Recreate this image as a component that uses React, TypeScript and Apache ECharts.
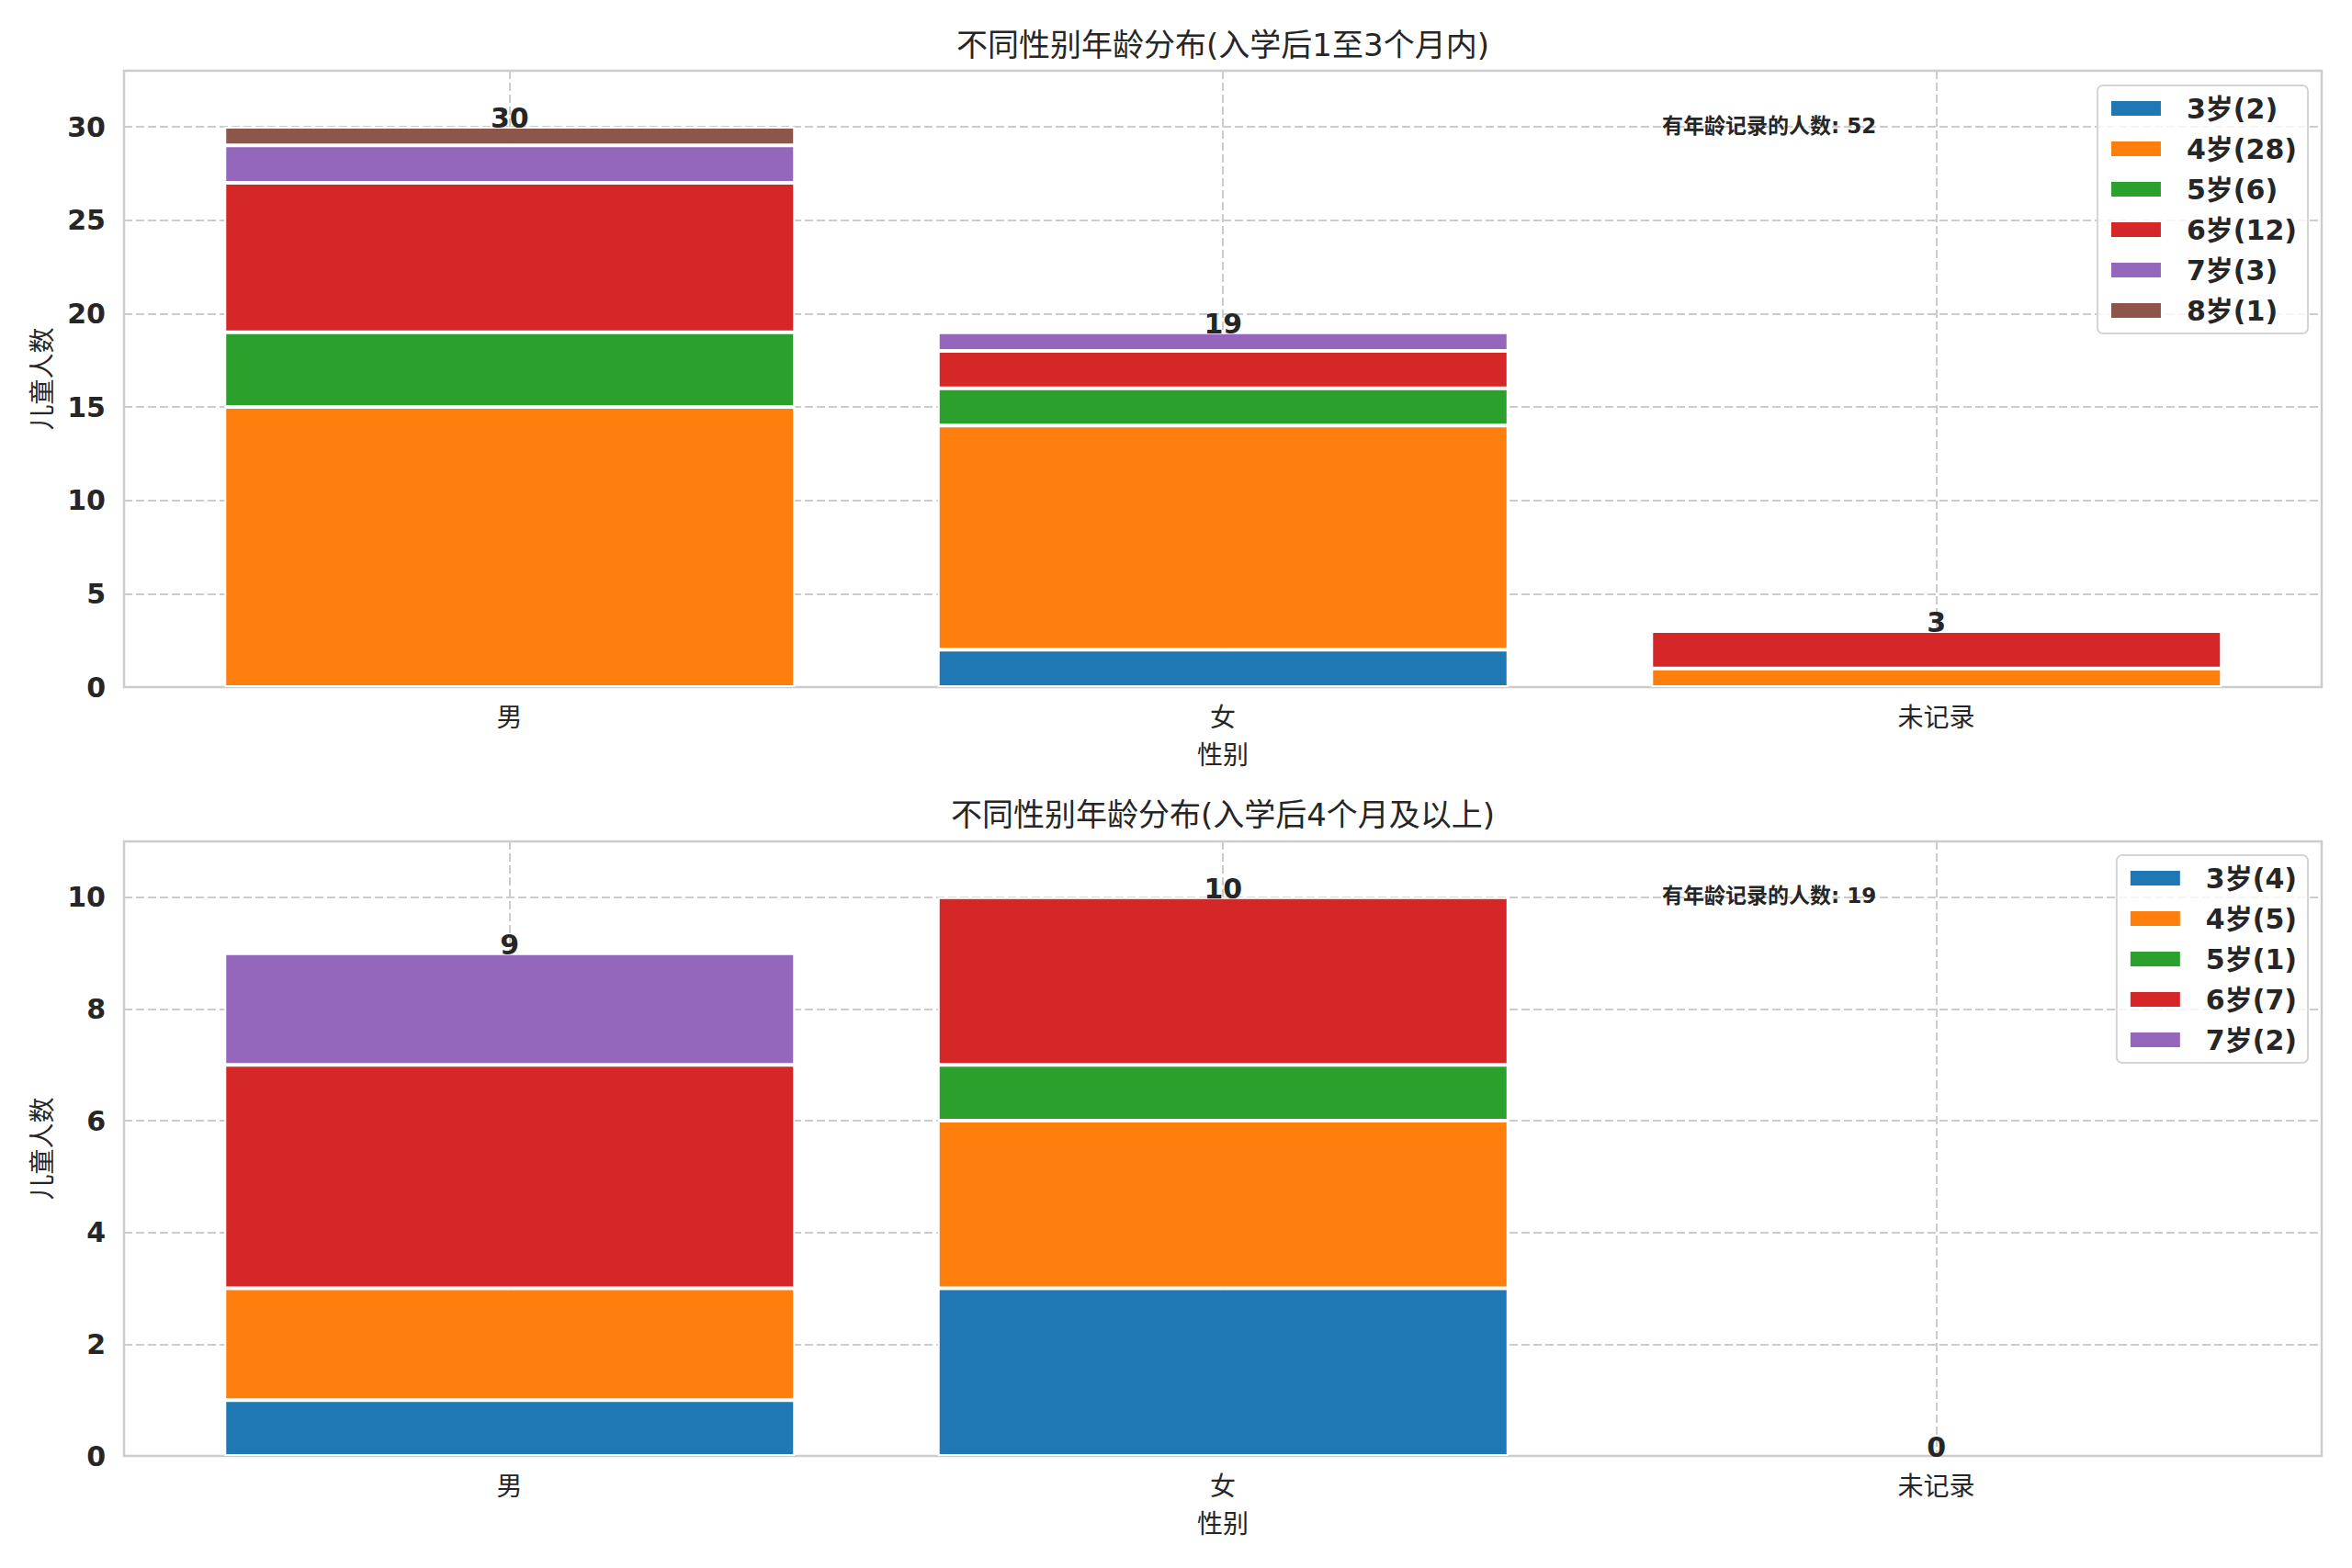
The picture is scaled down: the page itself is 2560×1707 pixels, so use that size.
import React, { useEffect, useRef } from "react";
import * as echarts from "echarts";

// ---- data ----
const GENDERS = ["男", "女", "未记录"];
const AGES = ["3岁", "4岁", "5岁", "6岁", "7岁", "8岁"];

// top chart: 入学后1至3个月内 (values per gender: 男, 女, 未记录)
const top3 = [0, 2, 0];
const top4 = [15, 12, 1];
const top5 = [4, 2, 0];
const top6 = [8, 2, 2];
const top7 = [2, 1, 0];
const top8 = [1, 0, 0];

// bottom chart: 入学后4个月及以上
const bottom3 = [1, 3, 0];
const bottom4 = [2, 3, 0];
const bottom5 = [0, 1, 0];
const bottom6 = [4, 3, 0];
const bottom7 = [2, 0, 0];

const TITLES = ["不同性别年龄分布(入学后1至3个月内)", "不同性别年龄分布(入学后4个月及以上)"];
const NOTE = "有年龄记录的人数";
const X_NAME = "性别";
const Y_NAME = "儿童人数";
const Y_MAX = [33, 11];
const Y_INTERVAL = [5, 2];

const COLORS = ["#1f77b4", "#ff7f0e", "#2ca02c", "#d62728", "#9467bd", "#8c564b"];

const TEXT = "#262626";
const GRIDC = "#cccccc";
const FONT = "'DejaVu Sans', 'Noto Sans CJK SC', sans-serif";

const CHARTS = [
  [top3, top4, top5, top6, top7, top8],
  [bottom3, bottom4, bottom5, bottom6, bottom7],
];

const GRID_TOP = [77, 916];
const GRID_H = [671, 669];

export default function App() {
  const ref = useRef<HTMLDivElement>(null);
  useEffect(() => {
    document.body.style.margin = "0";
    const chart = echarts.init(ref.current!, null, { renderer: "svg" });

    const series: any[] = [];
    const legends: any[] = [];
    const graphics: any[] = [];
    const grids: any[] = [];
    const xAxes: any[] = [];
    const yAxes: any[] = [];

    CHARTS.forEach((rows, c) => {
      const fi = 2 * c; // frame grid index
      const bi = 2 * c + 1; // bar grid index
      const names: string[] = [];
      rows.forEach((vals, k) => {
        const sum = vals.reduce((a, b) => a + b, 0);
        const name = `${AGES[k]}(${sum})`;
        names.push(name);
        series.push({
          type: "bar",
          name,
          stack: "s" + c,
          xAxisIndex: bi,
          yAxisIndex: bi,
          barWidth: 621,
          z: 2,
          itemStyle: { color: COLORS[k], borderColor: "#ffffff", borderWidth: 2 },
          data: vals.map((v) => (v === 0 ? "-" : v)),
        });
      });
      const totals = GENDERS.map((_, i) => rows.reduce((a, r) => a + r[i], 0));
      const grand = totals.reduce((a, b) => a + b, 0);
      series.push({
        type: "scatter",
        name: "total" + c,
        xAxisIndex: bi,
        yAxisIndex: bi,
        symbolSize: 1,
        silent: true,
        z: 5,
        itemStyle: { color: "transparent", opacity: 1 },
        label: {
          show: true,
          position: "top",
          distance: 0,
          offset: [0, 6],
          fontSize: 30,
          fontWeight: "bold",
          color: TEXT,
          opacity: 1,
          fontFamily: FONT,
        },
        data: totals,
      });

      // frame grid (axes box, tick labels, grid lines)
      grids.push({
        left: 135,
        right: 33,
        top: GRID_TOP[c],
        height: GRID_H[c],
        show: true,
        borderColor: GRIDC,
        borderWidth: 2.5,
        backgroundColor: "transparent",
      });
      // bar grid, aligned so category centres sit at x = 0, 1, 2 of the frame's range [-0.54, 2.54]
      grids.push({
        left: 166.5,
        right: 64,
        top: GRID_TOP[c],
        height: GRID_H[c],
        show: false,
      });

      xAxes.push({
        type: "value",
        gridIndex: fi,
        min: -0.54,
        max: 2.54,
        axisLine: { show: false },
        axisTick: { show: false, customValues: [0, 1, 2] },
        axisLabel: {
          customValues: [0, 1, 2],
          formatter: (v: number) => (Number.isInteger(v) && GENDERS[v] ? GENDERS[v] : ""),
          fontSize: 28,
          color: TEXT,
          fontFamily: FONT,
          margin: 19,
        },
        splitLine: { show: true, lineStyle: { color: GRIDC, width: 2, type: [9, 4] } },
        name: X_NAME,
        nameLocation: "middle",
        nameGap: 60,
        nameTextStyle: { fontSize: 28, color: TEXT, fontFamily: FONT },
      });
      xAxes.push({
        type: "category",
        gridIndex: bi,
        data: GENDERS,
        show: false,
      });
      yAxes.push({
        type: "value",
        gridIndex: fi,
        min: 0,
        max: Y_MAX[c],
        interval: Y_INTERVAL[c],
        axisLine: { show: false },
        axisTick: { show: false },
        axisLabel: {
          fontSize: 30,
          fontWeight: "bold",
          color: TEXT,
          fontFamily: FONT,
          margin: 20,
          showMaxLabel: false,
        },
        splitLine: { show: true, lineStyle: { color: GRIDC, width: 2, type: [9, 4] } },
        name: Y_NAME,
        nameLocation: "middle",
        nameGap: 75,
        nameTextStyle: { fontSize: 28, color: TEXT, fontFamily: FONT },
      });
      yAxes.push({
        type: "value",
        gridIndex: bi,
        min: 0,
        max: Y_MAX[c],
        interval: Y_INTERVAL[c],
        show: false,
        splitLine: { show: false },
      });
      legends.push({
        data: names,
        orient: "vertical",
        right: 48,
        top: c === 0 ? 93 : 931,
        itemWidth: 56,
        itemHeight: 18,
        itemGap: 14,
        icon: "rect",
        padding: [10, 12, 10, 13],
        backgroundColor: "rgba(255,255,255,0.8)",
        borderColor: "#d4d4d4",
        borderWidth: 2,
        borderRadius: 6,
        selectedMode: false,
        textStyle: {
          fontSize: 30,
          lineHeight: 30,
          fontWeight: "bold",
          color: TEXT,
          fontFamily: FONT,
          padding: [0, 0, 0, 22],
        },
      });
      graphics.push({
        type: "text",
        x: 1331,
        y: c === 0 ? 49 : 887,
        style: {
          text: TITLES[c],
          fontSize: 34,
          fontFamily: FONT,
          fill: TEXT,
          textAlign: "center",
          align: "center",
          textVerticalAlign: "middle",
          verticalAlign: "middle",
        },
      });
      graphics.push({
        type: "text",
        x: 1809,
        y: c === 0 ? 137 : 975,
        z: 10,
        style: {
          text: `${NOTE}: ${grand}`,
          fontSize: 23,
          fontWeight: "bold",
          fontFamily: FONT,
          fill: TEXT,
          textAlign: "left",
          align: "left",
          textVerticalAlign: "middle",
          verticalAlign: "middle",
        },
      });
    });

    chart.setOption({
      animation: false,
      backgroundColor: "#ffffff",
      textStyle: { fontFamily: FONT },
      grid: grids,
      xAxis: xAxes,
      yAxis: yAxes,
      legend: legends,
      series,
      graphic: graphics,
    });
    return () => chart.dispose();
  }, []);
  return <div ref={ref} style={{ width: 2560, height: 1707 }} />;
}
